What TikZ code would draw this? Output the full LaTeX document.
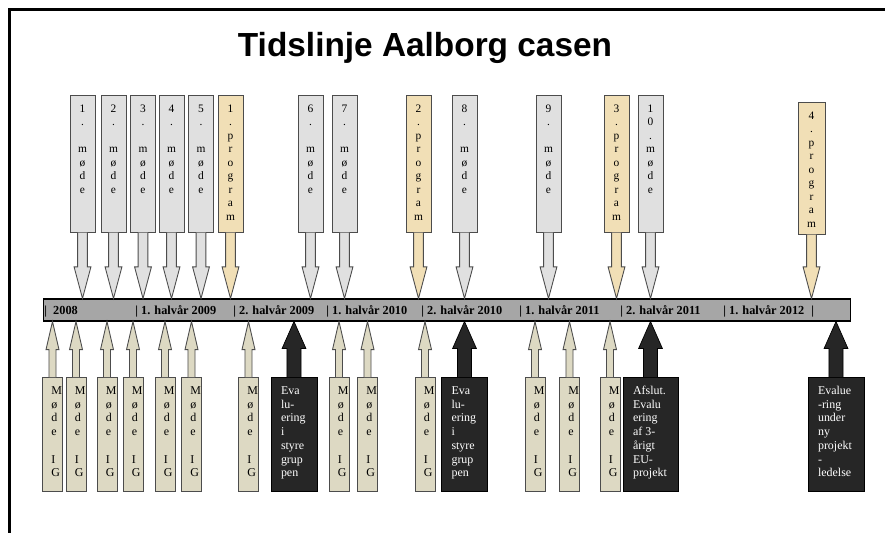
\documentclass[tikz,border=0pt]{standalone}
\usepackage{fontspec}
\setmainfont{Liberation Serif}
\newfontfamily\titlefont{Liberation Sans}
\usepackage{xcolor}
\usepackage{tikz}

\definecolor{marble}{HTML}{E0E0E0}
\definecolor{parch}{HTML}{F1DFB6}
\definecolor{khaki}{HTML}{DDD9C3}
\definecolor{ink}{HTML}{262626}
\definecolor{barfill}{HTML}{A6A6A6}

% columns of letters, text hangs from the top of the box
\newcommand\topcol[3]{\parbox[t][#2][t]{#1}{\centering\rule{0pt}{9.6pt}#3}}
\newcommand\botcol[3]{\parbox[t][2.28cm][t]{#1}{\raggedright\leftskip=#2\rule{0pt}{9.6pt}#3}}

\begin{document}
\begin{tikzpicture}[x=0.02cm, y=-0.02cm,
    mbox/.style={draw=black!70, fill=marble, inner sep=0pt, anchor=north,
                 font=\fontsize{6.5}{7.7}\selectfont},
    pbox/.style={mbox, fill=parch},
    gbox/.style={draw=black!70, fill=khaki, inner sep=0pt, anchor=north,
                 font=\fontsize{6.8}{7.85}\selectfont},
    ebox/.style={draw=black, fill=ink, text=white, inner sep=0pt, anchor=north,
                 font=\fontsize{6.8}{7.85}\selectfont},
    tick/.style={anchor=base west, inner sep=0pt, font=\fontsize{7}{8}\selectfont\bfseries},
    fat/.style n args={3}{to path={([xshift=-#1]\tikztostart) -- ([xshift=-#1,yshift=#3]\tikztotarget)
        -- ([xshift=-#2,yshift=#3]\tikztotarget) -- (\tikztotarget) -- ([xshift=#2,yshift=#3]\tikztotarget)
        -- ([xshift=#1,yshift=#3]\tikztotarget) -- ([xshift=#1]\tikztostart)}},
    marr/.style={draw=black!70, fill=marble, line width=0.5pt, fat={2.8pt}{4.8pt}{18pt}},
    parr/.style={marr, fill=parch},
    garr/.style={draw=black!70, fill=khaki, line width=0.5pt, fat={2pt}{3.7pt}{-16pt}},
    earr/.style={draw=black, fill=ink, fat={4pt}{6.8pt}{-15.4pt}}
  ]
    \useasboundingbox (0,0) rectangle (885,533);
    \draw[line width=1.2pt] (885,9.5) -- (9.5,9.5) -- (9.5,533);

    \node[font=\titlefont\bfseries\fontsize{19}{22}\selectfont, anchor=base] (title) at (425,57) {Tidslinje Aalborg casen};

    % timeline
    \node[draw, fill=barfill, line width=0.6pt, inner sep=0pt, minimum width=16.16cm, minimum height=0.44cm] (bar) at (447,310) {};
    \node[tick] (y08) at (44,315) {|\hspace{3.5pt}2008};
    \node[tick] (h09a) at (135,315) {| 1. halvår 2009};
    \node[tick] (h09b) at (233,315) {| 2. halvår 2009};
    \node[tick] (h10a) at (326,315) {| 1. halvår 2010};
    \node[tick] (h10b) at (421,315) {| 2. halvår 2010};
    \node[tick] (h11a) at (519,315) {| 1. halvår 2011};
    \node[tick] (h11b) at (620,315) {| 2. halvår 2011};
    \node[tick] (h12a) at (723,315) {| 1. halvår 2012\hspace{4pt}|};

    % meetings and programmes above the line
    \node[mbox] (m1) at (82.5,95) {\topcol{0.5cm}{2.74cm}{1\\.\\\mbox{}\\m\\ø\\d\\e}};
    \node[mbox] (m2) at (113.5,95) {\topcol{0.5cm}{2.74cm}{2\\.\\\mbox{}\\m\\ø\\d\\e}};
    \node[mbox] (m3) at (143,95) {\topcol{0.5cm}{2.74cm}{3\\.\\\mbox{}\\m\\ø\\d\\e}};
    \node[mbox] (m4) at (171.5,95) {\topcol{0.5cm}{2.74cm}{4\\.\\\mbox{}\\m\\ø\\d\\e}};
    \node[mbox] (m5) at (201,95) {\topcol{0.5cm}{2.74cm}{5\\.\\\mbox{}\\m\\ø\\d\\e}};
    \node[pbox] (p1) at (230.5,95) {\topcol{0.5cm}{2.74cm}{1\\.\\p\\r\\o\\g\\r\\a\\m}};
    \node[mbox] (m6) at (310.5,95) {\topcol{0.5cm}{2.74cm}{6\\.\\\mbox{}\\m\\ø\\d\\e}};
    \node[mbox] (m7) at (344.5,95) {\topcol{0.5cm}{2.74cm}{7\\.\\\mbox{}\\m\\ø\\d\\e}};
    \node[pbox] (p2) at (418.5,95) {\topcol{0.5cm}{2.74cm}{2\\.\\p\\r\\o\\g\\r\\a\\m}};
    \node[mbox] (m8) at (464.5,95) {\topcol{0.5cm}{2.74cm}{8\\.\\\mbox{}\\m\\ø\\d\\e}};
    \node[mbox] (m9) at (548.5,95) {\topcol{0.5cm}{2.74cm}{9\\.\\\mbox{}\\m\\ø\\d\\e}};
    \node[pbox] (p3) at (616.5,95) {\topcol{0.5cm}{2.74cm}{3\\.\\p\\r\\o\\g\\r\\a\\m}};
    \node[mbox] (m10) at (650.5,95) {\topcol{0.5cm}{2.74cm}{1\\0\\.\\m\\ø\\d\\e}};
    \node[pbox] (p4) at (811.5,102) {\topcol{0.54cm}{2.64cm}{4\\.\\p\\r\\o\\g\\r\\a\\m}};

    % IG meetings and evaluations below the line
    \node[gbox] (g1) at (52.5,377) {\botcol{0.4cm}{5pt}{M\\ø\\d\\e\\\mbox{}\\I\\G}};
    \node[gbox] (g2) at (76,377) {\botcol{0.4cm}{5pt}{M\\ø\\d\\e\\\mbox{}\\I\\G}};
    \node[gbox] (g3) at (107,377) {\botcol{0.4cm}{5pt}{M\\ø\\d\\e\\\mbox{}\\I\\G}};
    \node[gbox] (g4) at (133,377) {\botcol{0.4cm}{5pt}{M\\ø\\d\\e\\\mbox{}\\I\\G}};
    \node[gbox] (g5) at (165,377) {\botcol{0.4cm}{5pt}{M\\ø\\d\\e\\\mbox{}\\I\\G}};
    \node[gbox] (g6) at (191.5,377) {\botcol{0.4cm}{5pt}{M\\ø\\d\\e\\\mbox{}\\I\\G}};
    \node[gbox] (g7) at (248.5,377) {\botcol{0.4cm}{5pt}{M\\ø\\d\\e\\\mbox{}\\I\\G}};
    \node[ebox] (e1) at (294,377) {\botcol{0.92cm}{5.7pt}{Eva\\lu-\\ering\\i\\styre\\grup\\pen}};
    \node[gbox] (g8) at (339,377) {\botcol{0.4cm}{5pt}{M\\ø\\d\\e\\\mbox{}\\I\\G}};
    \node[gbox] (g9) at (367.5,377) {\botcol{0.4cm}{5pt}{M\\ø\\d\\e\\\mbox{}\\I\\G}};
    \node[gbox] (g10) at (425,377) {\botcol{0.4cm}{5pt}{M\\ø\\d\\e\\\mbox{}\\I\\G}};
    \node[ebox] (e2) at (464.5,377) {\botcol{0.92cm}{5.7pt}{Eva\\lu-\\ering\\i\\styre\\grup\\pen}};
    \node[gbox] (g11) at (535,377) {\botcol{0.4cm}{5pt}{M\\ø\\d\\e\\\mbox{}\\I\\G}};
    \node[gbox] (g12) at (569.5,377) {\botcol{0.4cm}{5pt}{M\\ø\\d\\e\\\mbox{}\\I\\G}};
    \node[gbox] (g13) at (610,377) {\botcol{0.4cm}{5pt}{M\\ø\\d\\e\\\mbox{}\\I\\G}};
    \node[ebox] (e3) at (650.5,377) {\botcol{1.1cm}{5.7pt}{Afslut.\\Evalu\\ering\\af 3-\\årigt\\EU-\\projekt}};
    \node[ebox] (e4) at (836,377) {\botcol{1.12cm}{5.7pt}{Evalue\\-ring\\under\\ny\\projekt\\-\\ledelse}};

    % arrows down to the line
    \coordinate (tm1) at (m1.south |- bar.north); \draw[marr] (m1.south) to (tm1);
    \coordinate (tm2) at (m2.south |- bar.north); \draw[marr] (m2.south) to (tm2);
    \coordinate (tm3) at (m3.south |- bar.north); \draw[marr] (m3.south) to (tm3);
    \coordinate (tm4) at (m4.south |- bar.north); \draw[marr] (m4.south) to (tm4);
    \coordinate (tm5) at (m5.south |- bar.north); \draw[marr] (m5.south) to (tm5);
    \coordinate (tp1) at (p1.south |- bar.north); \draw[parr] (p1.south) to (tp1);
    \coordinate (tm6) at (m6.south |- bar.north); \draw[marr] (m6.south) to (tm6);
    \coordinate (tm7) at (m7.south |- bar.north); \draw[marr] (m7.south) to (tm7);
    \coordinate (tp2) at (p2.south |- bar.north); \draw[parr] (p2.south) to (tp2);
    \coordinate (tm8) at (m8.south |- bar.north); \draw[marr] (m8.south) to (tm8);
    \coordinate (tm9) at (m9.south |- bar.north); \draw[marr] (m9.south) to (tm9);
    \coordinate (tp3) at (p3.south |- bar.north); \draw[parr] (p3.south) to (tp3);
    \coordinate (tm10) at (m10.south |- bar.north); \draw[marr] (m10.south) to (tm10);
    \coordinate (tp4) at (p4.south |- bar.north); \draw[parr] (p4.south) to (tp4);

    % arrows up to the line
    \coordinate (tg1) at (g1.north |- bar.south); \draw[garr] (g1.north) to (tg1);
    \coordinate (tg2) at (g2.north |- bar.south); \draw[garr] (g2.north) to (tg2);
    \coordinate (tg3) at (g3.north |- bar.south); \draw[garr] (g3.north) to (tg3);
    \coordinate (tg4) at (g4.north |- bar.south); \draw[garr] (g4.north) to (tg4);
    \coordinate (tg5) at (g5.north |- bar.south); \draw[garr] (g5.north) to (tg5);
    \coordinate (tg6) at (g6.north |- bar.south); \draw[garr] (g6.north) to (tg6);
    \coordinate (tg7) at (g7.north |- bar.south); \draw[garr] (g7.north) to (tg7);
    \coordinate (te1) at (e1.north |- bar.south); \draw[earr] (e1.north) to (te1);
    \coordinate (tg8) at (g8.north |- bar.south); \draw[garr] (g8.north) to (tg8);
    \coordinate (tg9) at (g9.north |- bar.south); \draw[garr] (g9.north) to (tg9);
    \coordinate (tg10) at (g10.north |- bar.south); \draw[garr] (g10.north) to (tg10);
    \coordinate (te2) at (e2.north |- bar.south); \draw[earr] (e2.north) to (te2);
    \coordinate (tg11) at (g11.north |- bar.south); \draw[garr] (g11.north) to (tg11);
    \coordinate (tg12) at (g12.north |- bar.south); \draw[garr] (g12.north) to (tg12);
    \coordinate (tg13) at (g13.north |- bar.south); \draw[garr] (g13.north) to (tg13);
    \coordinate (te3) at (e3.north |- bar.south); \draw[earr] (e3.north) to (te3);
    \coordinate (te4) at (e4.north |- bar.south); \draw[earr] (e4.north) to (te4);
  \end{tikzpicture}
\end{document}
